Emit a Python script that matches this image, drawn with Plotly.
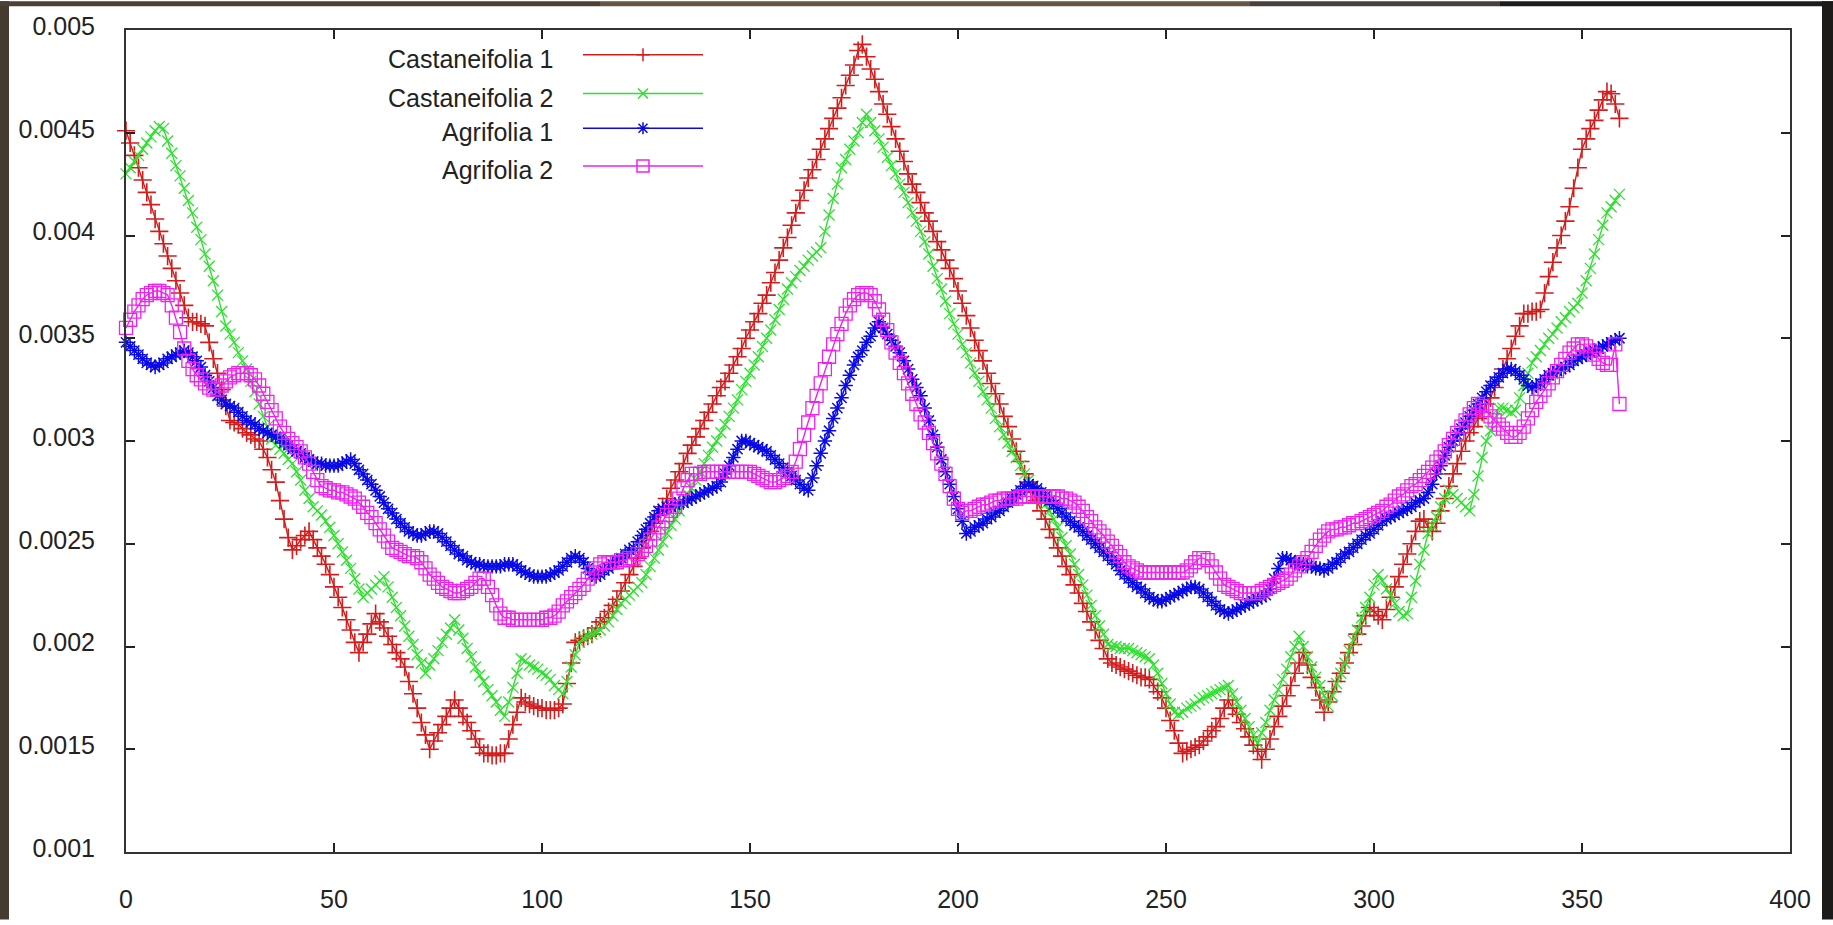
import plotly.graph_objects as go

# ---------------- data ----------------
angle_deg = list(range(0, 360))

castaneifolia_1 = [
    0.00451, 0.00445, 0.00439, 0.00433, 0.00427, 0.00421, 0.00415, 0.00408, 0.00402, 0.00396,
    0.00390, 0.00384, 0.00378, 0.00372, 0.00366, 0.00360, 0.00358, 0.00358, 0.00357, 0.00356,
    0.00348, 0.00340, 0.00333, 0.00325, 0.00317, 0.00310, 0.00309, 0.00308, 0.00306, 0.00304,
    0.00303, 0.00301, 0.00300, 0.00296, 0.00292, 0.00286, 0.00280, 0.00271, 0.00262, 0.00253,
    0.00247, 0.00249, 0.00252, 0.00254, 0.00256, 0.00252, 0.00248, 0.00244, 0.00240, 0.00235,
    0.00229, 0.00224, 0.00219, 0.00213, 0.00208, 0.00202, 0.00197, 0.00202, 0.00206, 0.00211,
    0.00216, 0.00212, 0.00209, 0.00205, 0.00201, 0.00197, 0.00194, 0.00190, 0.00183, 0.00177,
    0.00170, 0.00163, 0.00157, 0.00150, 0.00154, 0.00158, 0.00162, 0.00166, 0.00170, 0.00174,
    0.00170, 0.00166, 0.00163, 0.00159, 0.00155, 0.00151, 0.00148, 0.00148, 0.00147, 0.00147,
    0.00148, 0.00148, 0.00155, 0.00162, 0.00168, 0.00175, 0.00173, 0.00172, 0.00171, 0.00170,
    0.00170, 0.00169, 0.00169, 0.00169, 0.00170, 0.00172, 0.00182, 0.00192, 0.00202, 0.00203,
    0.00204, 0.00205, 0.00206, 0.00209, 0.00212, 0.00214, 0.00217, 0.00220, 0.00223, 0.00227,
    0.00231, 0.00235, 0.00239, 0.00243, 0.00248, 0.00252, 0.00256, 0.00260, 0.00264, 0.00268,
    0.00272, 0.00277, 0.00281, 0.00285, 0.00289, 0.00294, 0.00298, 0.00302, 0.00306, 0.00310,
    0.00314, 0.00318, 0.00322, 0.00326, 0.00329, 0.00333, 0.00337, 0.00341, 0.00345, 0.00350,
    0.00354, 0.00358, 0.00362, 0.00367, 0.00371, 0.00377, 0.00382, 0.00388, 0.00394, 0.00399,
    0.00405, 0.00411, 0.00417, 0.00422, 0.00428, 0.00432, 0.00437, 0.00442, 0.00447, 0.00452,
    0.00457, 0.00462, 0.00467, 0.00473, 0.00478, 0.00483, 0.00490, 0.00493, 0.00487, 0.00481,
    0.00476, 0.00470, 0.00464, 0.00459, 0.00453, 0.00447, 0.00441, 0.00436, 0.00430, 0.00425,
    0.00421, 0.00416, 0.00411, 0.00407, 0.00402, 0.00397, 0.00393, 0.00388, 0.00384, 0.00379,
    0.00373, 0.00367, 0.00361, 0.00355, 0.00349, 0.00344, 0.00339, 0.00333, 0.00328, 0.00323,
    0.00318, 0.00312, 0.00307, 0.00301, 0.00295, 0.00290, 0.00284, 0.00280, 0.00275, 0.00271,
    0.00266, 0.00262, 0.00257, 0.00253, 0.00248, 0.00244, 0.00239, 0.00235, 0.00230, 0.00226,
    0.00221, 0.00217, 0.00212, 0.00208, 0.00203, 0.00199, 0.00194, 0.00192, 0.00191, 0.00190,
    0.00189, 0.00188, 0.00187, 0.00186, 0.00185, 0.00185, 0.00184, 0.00181, 0.00178, 0.00175,
    0.00170, 0.00164, 0.00159, 0.00153, 0.00148, 0.00149, 0.00150, 0.00151, 0.00152, 0.00154,
    0.00156, 0.00159, 0.00161, 0.00165, 0.00170, 0.00174, 0.00170, 0.00167, 0.00163, 0.00160,
    0.00156, 0.00152, 0.00149, 0.00145, 0.00150, 0.00155, 0.00161, 0.00166, 0.00171, 0.00176,
    0.00181, 0.00187, 0.00192, 0.00197, 0.00191, 0.00185, 0.00180, 0.00174, 0.00168, 0.00173,
    0.00178, 0.00183, 0.00187, 0.00192, 0.00197, 0.00201, 0.00206, 0.00210, 0.00215, 0.00219,
    0.00217, 0.00215, 0.00213, 0.00218, 0.00224, 0.00229, 0.00234, 0.00240, 0.00245, 0.00250,
    0.00256, 0.00261, 0.00262, 0.00258, 0.00256, 0.00260, 0.00266, 0.00272, 0.00278, 0.00284,
    0.00289, 0.00295, 0.00300, 0.00304, 0.00307, 0.00311, 0.00314, 0.00318, 0.00321, 0.00326,
    0.00331, 0.00335, 0.00340, 0.00345, 0.00351, 0.00356, 0.00362, 0.00362, 0.00363, 0.00363,
    0.00364, 0.00372, 0.00380, 0.00387, 0.00394, 0.00400, 0.00407, 0.00414, 0.00423, 0.00433,
    0.00442, 0.00447, 0.00452, 0.00456, 0.00461, 0.00466, 0.00470, 0.00469, 0.00464, 0.00457,
]

castaneifolia_2 = [
    0.00430, 0.00433, 0.00436, 0.00439, 0.00442, 0.00445, 0.00448, 0.00451, 0.00453, 0.00452,
    0.00446, 0.00440, 0.00434, 0.00429, 0.00423, 0.00417, 0.00411, 0.00404, 0.00398, 0.00391,
    0.00385, 0.00378, 0.00371, 0.00363, 0.00356, 0.00352, 0.00348, 0.00343, 0.00339, 0.00335,
    0.00329, 0.00324, 0.00318, 0.00312, 0.00307, 0.00301, 0.00298, 0.00296, 0.00294, 0.00291,
    0.00289, 0.00285, 0.00281, 0.00276, 0.00272, 0.00268, 0.00266, 0.00264, 0.00261, 0.00258,
    0.00254, 0.00250, 0.00246, 0.00242, 0.00238, 0.00233, 0.00228, 0.00224, 0.00226, 0.00228,
    0.00230, 0.00232, 0.00234, 0.00229, 0.00224, 0.00219, 0.00215, 0.00210, 0.00205, 0.00201,
    0.00196, 0.00192, 0.00187, 0.00191, 0.00194, 0.00198, 0.00202, 0.00206, 0.00209, 0.00213,
    0.00208, 0.00204, 0.00199, 0.00195, 0.00190, 0.00186, 0.00183, 0.00179, 0.00176, 0.00173,
    0.00169, 0.00166, 0.00173, 0.00180, 0.00187, 0.00194, 0.00193, 0.00191, 0.00190, 0.00189,
    0.00187, 0.00186, 0.00184, 0.00181, 0.00179, 0.00177, 0.00183, 0.00190, 0.00196, 0.00202,
    0.00204, 0.00205, 0.00206, 0.00207, 0.00208, 0.00210, 0.00212, 0.00215, 0.00218, 0.00221,
    0.00223, 0.00225, 0.00227, 0.00229, 0.00231, 0.00235, 0.00239, 0.00243, 0.00247, 0.00251,
    0.00255, 0.00259, 0.00262, 0.00266, 0.00270, 0.00274, 0.00277, 0.00281, 0.00285, 0.00289,
    0.00293, 0.00297, 0.00300, 0.00304, 0.00308, 0.00312, 0.00316, 0.00320, 0.00325, 0.00329,
    0.00333, 0.00337, 0.00341, 0.00346, 0.00350, 0.00354, 0.00359, 0.00364, 0.00369, 0.00374,
    0.00377, 0.00380, 0.00383, 0.00385, 0.00388, 0.00390, 0.00392, 0.00394, 0.00402, 0.00410,
    0.00418, 0.00425, 0.00433, 0.00437, 0.00442, 0.00446, 0.00450, 0.00455, 0.00459, 0.00455,
    0.00451, 0.00447, 0.00443, 0.00438, 0.00434, 0.00430, 0.00425, 0.00421, 0.00416, 0.00411,
    0.00407, 0.00402, 0.00397, 0.00391, 0.00385, 0.00379, 0.00374, 0.00368, 0.00362, 0.00357,
    0.00352, 0.00347, 0.00343, 0.00338, 0.00333, 0.00329, 0.00324, 0.00320, 0.00316, 0.00311,
    0.00307, 0.00303, 0.00299, 0.00295, 0.00292, 0.00288, 0.00284, 0.00281, 0.00278, 0.00275,
    0.00272, 0.00269, 0.00266, 0.00262, 0.00258, 0.00253, 0.00249, 0.00245, 0.00240, 0.00235,
    0.00230, 0.00225, 0.00220, 0.00215, 0.00210, 0.00206, 0.00201, 0.00200, 0.00200, 0.00199,
    0.00199, 0.00199, 0.00198, 0.00197, 0.00196, 0.00195, 0.00194, 0.00191, 0.00187, 0.00182,
    0.00177, 0.00172, 0.00168, 0.00167, 0.00168, 0.00170, 0.00171, 0.00172, 0.00174, 0.00175,
    0.00176, 0.00177, 0.00178, 0.00179, 0.00180, 0.00181, 0.00177, 0.00173, 0.00169, 0.00165,
    0.00161, 0.00157, 0.00153, 0.00158, 0.00163, 0.00169, 0.00174, 0.00179, 0.00184, 0.00189,
    0.00195, 0.00200, 0.00205, 0.00200, 0.00195, 0.00190, 0.00185, 0.00181, 0.00176, 0.00171,
    0.00176, 0.00182, 0.00187, 0.00192, 0.00198, 0.00203, 0.00208, 0.00214, 0.00219, 0.00224,
    0.00230, 0.00235, 0.00232, 0.00228, 0.00225, 0.00221, 0.00217, 0.00215, 0.00216, 0.00224,
    0.00232, 0.00240, 0.00247, 0.00255, 0.00259, 0.00263, 0.00268, 0.00272, 0.00276, 0.00274,
    0.00272, 0.00270, 0.00268, 0.00266, 0.00274, 0.00283, 0.00292, 0.00300, 0.00305, 0.00311,
    0.00316, 0.00316, 0.00315, 0.00314, 0.00315, 0.00321, 0.00327, 0.00333, 0.00338, 0.00341,
    0.00344, 0.00347, 0.00350, 0.00352, 0.00355, 0.00358, 0.00360, 0.00363, 0.00365, 0.00367,
    0.00372, 0.00378, 0.00384, 0.00391, 0.00398, 0.00405, 0.00411, 0.00414, 0.00417, 0.00420,
]

agrifolia_1 = [
    0.00348, 0.00346, 0.00344, 0.00342, 0.00340, 0.00338, 0.00337, 0.00336, 0.00337, 0.00338,
    0.00340, 0.00341, 0.00342, 0.00343, 0.00344, 0.00343, 0.00341, 0.00339, 0.00336, 0.00332,
    0.00329, 0.00326, 0.00322, 0.00320, 0.00318, 0.00317, 0.00316, 0.00314, 0.00312, 0.00310,
    0.00309, 0.00308, 0.00306, 0.00305, 0.00304, 0.00303, 0.00302, 0.00301, 0.00299, 0.00298,
    0.00296, 0.00295, 0.00294, 0.00292, 0.00291, 0.00290, 0.00289, 0.00289, 0.00288, 0.00288,
    0.00288, 0.00288, 0.00289, 0.00290, 0.00291, 0.00289, 0.00286, 0.00284, 0.00281, 0.00279,
    0.00276, 0.00273, 0.00270, 0.00267, 0.00265, 0.00262, 0.00260, 0.00258, 0.00256, 0.00255,
    0.00254, 0.00254, 0.00255, 0.00256, 0.00256, 0.00255, 0.00253, 0.00251, 0.00249, 0.00247,
    0.00245, 0.00244, 0.00242, 0.00241, 0.00240, 0.00240, 0.00239, 0.00239, 0.00239, 0.00239,
    0.00239, 0.00240, 0.00240, 0.00240, 0.00239, 0.00237, 0.00236, 0.00235, 0.00234, 0.00234,
    0.00234, 0.00234, 0.00235, 0.00236, 0.00237, 0.00239, 0.00241, 0.00243, 0.00244, 0.00243,
    0.00241, 0.00238, 0.00235, 0.00234, 0.00235, 0.00237, 0.00238, 0.00240, 0.00242, 0.00243,
    0.00245, 0.00247, 0.00248, 0.00251, 0.00254, 0.00257, 0.00260, 0.00263, 0.00266, 0.00267,
    0.00268, 0.00268, 0.00269, 0.00270, 0.00270, 0.00271, 0.00272, 0.00273, 0.00274, 0.00275,
    0.00276, 0.00277, 0.00278, 0.00280, 0.00284, 0.00288, 0.00292, 0.00296, 0.00300, 0.00300,
    0.00299, 0.00298, 0.00297, 0.00296, 0.00295, 0.00293, 0.00291, 0.00289, 0.00287, 0.00285,
    0.00283, 0.00281, 0.00279, 0.00277, 0.00276, 0.00282, 0.00288, 0.00294, 0.00300, 0.00305,
    0.00311, 0.00316, 0.00321, 0.00327, 0.00332, 0.00337, 0.00341, 0.00344, 0.00348, 0.00351,
    0.00355, 0.00358, 0.00355, 0.00352, 0.00349, 0.00346, 0.00343, 0.00339, 0.00335, 0.00330,
    0.00326, 0.00322, 0.00316, 0.00310, 0.00303, 0.00297, 0.00291, 0.00285, 0.00279, 0.00273,
    0.00267, 0.00261, 0.00255, 0.00256, 0.00258, 0.00259, 0.00260, 0.00262, 0.00263, 0.00265,
    0.00266, 0.00268, 0.00270, 0.00272, 0.00274, 0.00276, 0.00278, 0.00279, 0.00278, 0.00277,
    0.00275, 0.00273, 0.00271, 0.00269, 0.00267, 0.00265, 0.00263, 0.00261, 0.00259, 0.00258,
    0.00256, 0.00254, 0.00252, 0.00250, 0.00248, 0.00246, 0.00244, 0.00242, 0.00240, 0.00237,
    0.00235, 0.00233, 0.00231, 0.00229, 0.00228, 0.00226, 0.00224, 0.00223, 0.00222, 0.00222,
    0.00223, 0.00224, 0.00225, 0.00226, 0.00227, 0.00228, 0.00229, 0.00229, 0.00228, 0.00226,
    0.00224, 0.00222, 0.00220, 0.00218, 0.00217, 0.00216, 0.00217, 0.00218, 0.00219, 0.00220,
    0.00221, 0.00222, 0.00223, 0.00224, 0.00225, 0.00228, 0.00233, 0.00238, 0.00243, 0.00243,
    0.00242, 0.00241, 0.00240, 0.00240, 0.00239, 0.00239, 0.00238, 0.00238, 0.00237, 0.00238,
    0.00240, 0.00241, 0.00243, 0.00245, 0.00246, 0.00248, 0.00250, 0.00252, 0.00254, 0.00255,
    0.00257, 0.00259, 0.00261, 0.00262, 0.00263, 0.00264, 0.00265, 0.00266, 0.00267, 0.00268,
    0.00270, 0.00271, 0.00272, 0.00275, 0.00279, 0.00284, 0.00288, 0.00293, 0.00297, 0.00300,
    0.00303, 0.00306, 0.00309, 0.00312, 0.00315, 0.00318, 0.00321, 0.00324, 0.00327, 0.00329,
    0.00331, 0.00333, 0.00335, 0.00335, 0.00334, 0.00332, 0.00330, 0.00327, 0.00326, 0.00327,
    0.00328, 0.00330, 0.00332, 0.00333, 0.00334, 0.00335, 0.00336, 0.00337, 0.00339, 0.00340,
    0.00341, 0.00342, 0.00343, 0.00344, 0.00345, 0.00346, 0.00347, 0.00348, 0.00349, 0.00350,
]

agrifolia_2 = [
    0.00355, 0.00359, 0.00363, 0.00366, 0.00369, 0.00371, 0.00372, 0.00373, 0.00373, 0.00372,
    0.00371, 0.00366, 0.00360, 0.00353, 0.00345, 0.00339, 0.00335, 0.00332, 0.00330, 0.00328,
    0.00326, 0.00325, 0.00325, 0.00327, 0.00329, 0.00331, 0.00332, 0.00333, 0.00333, 0.00333,
    0.00332, 0.00330, 0.00327, 0.00323, 0.00319, 0.00315, 0.00311, 0.00307, 0.00304, 0.00301,
    0.00299, 0.00297, 0.00295, 0.00292, 0.00289, 0.00285, 0.00281, 0.00278, 0.00277, 0.00276,
    0.00276, 0.00275, 0.00275, 0.00274, 0.00273, 0.00272, 0.00270, 0.00268, 0.00265, 0.00263,
    0.00260, 0.00257, 0.00254, 0.00251, 0.00248, 0.00247, 0.00246, 0.00245, 0.00244, 0.00244,
    0.00243, 0.00241, 0.00238, 0.00235, 0.00233, 0.00231, 0.00229, 0.00228, 0.00227, 0.00226,
    0.00226, 0.00227, 0.00228, 0.00229, 0.00231, 0.00233, 0.00233, 0.00229, 0.00225, 0.00220,
    0.00216, 0.00214, 0.00214, 0.00213, 0.00213, 0.00213, 0.00213, 0.00213, 0.00213, 0.00213,
    0.00213, 0.00214, 0.00214, 0.00215, 0.00217, 0.00220, 0.00222, 0.00224, 0.00226, 0.00228,
    0.00230, 0.00233, 0.00236, 0.00238, 0.00240, 0.00241, 0.00241, 0.00241, 0.00241, 0.00242,
    0.00242, 0.00243, 0.00243, 0.00245, 0.00247, 0.00249, 0.00252, 0.00255, 0.00258, 0.00261,
    0.00264, 0.00266, 0.00268, 0.00272, 0.00277, 0.00281, 0.00284, 0.00284, 0.00284, 0.00285,
    0.00285, 0.00285, 0.00285, 0.00285, 0.00285, 0.00285, 0.00285, 0.00285, 0.00285, 0.00285,
    0.00285, 0.00284, 0.00283, 0.00282, 0.00281, 0.00280, 0.00280, 0.00281, 0.00282, 0.00283,
    0.00285, 0.00290, 0.00296, 0.00303, 0.00309, 0.00316, 0.00322, 0.00328, 0.00335, 0.00341,
    0.00347, 0.00352, 0.00357, 0.00362, 0.00366, 0.00369, 0.00371, 0.00372, 0.00372, 0.00371,
    0.00368, 0.00364, 0.00359, 0.00354, 0.00348, 0.00343, 0.00338, 0.00333, 0.00328, 0.00323,
    0.00318, 0.00313, 0.00309, 0.00304, 0.00299, 0.00294, 0.00289, 0.00284, 0.00278, 0.00272,
    0.00267, 0.00265, 0.00266, 0.00266, 0.00267, 0.00268, 0.00269, 0.00269, 0.00270, 0.00271,
    0.00271, 0.00272, 0.00272, 0.00272, 0.00272, 0.00273, 0.00273, 0.00273, 0.00273, 0.00273,
    0.00273, 0.00273, 0.00273, 0.00273, 0.00273, 0.00272, 0.00272, 0.00271, 0.00270, 0.00268,
    0.00266, 0.00263, 0.00261, 0.00258, 0.00256, 0.00254, 0.00251, 0.00249, 0.00246, 0.00244,
    0.00241, 0.00239, 0.00238, 0.00237, 0.00236, 0.00236, 0.00236, 0.00236, 0.00236, 0.00236,
    0.00236, 0.00236, 0.00236, 0.00236, 0.00236, 0.00237, 0.00239, 0.00241, 0.00243, 0.00243,
    0.00242, 0.00239, 0.00236, 0.00233, 0.00230, 0.00229, 0.00228, 0.00227, 0.00226, 0.00226,
    0.00226, 0.00226, 0.00226, 0.00227, 0.00228, 0.00229, 0.00230, 0.00231, 0.00232, 0.00233,
    0.00235, 0.00237, 0.00239, 0.00241, 0.00243, 0.00246, 0.00249, 0.00252, 0.00254, 0.00256,
    0.00257, 0.00257, 0.00258, 0.00258, 0.00259, 0.00260, 0.00260, 0.00261, 0.00262, 0.00263,
    0.00264, 0.00265, 0.00266, 0.00268, 0.00269, 0.00271, 0.00273, 0.00274, 0.00276, 0.00278,
    0.00279, 0.00281, 0.00283, 0.00285, 0.00287, 0.00290, 0.00292, 0.00295, 0.00298, 0.00301,
    0.00304, 0.00307, 0.00310, 0.00313, 0.00316, 0.00318, 0.00317, 0.00315, 0.00312, 0.00310,
    0.00308, 0.00306, 0.00304, 0.00302, 0.00302, 0.00304, 0.00307, 0.00311, 0.00315, 0.00319,
    0.00322, 0.00325, 0.00328, 0.00331, 0.00334, 0.00337, 0.00340, 0.00343, 0.00345, 0.00347,
    0.00347, 0.00346, 0.00344, 0.00342, 0.00340, 0.00338, 0.00337, 0.00337, 0.00347, 0.00318,
]

series_names = ["Castaneifolia 1", "Castaneifolia 2", "Agrifolia 1", "Agrifolia 2"]
series_values = [castaneifolia_1, castaneifolia_2, agrifolia_1, agrifolia_2]

x_tick_vals = [0, 50, 100, 150, 200, 250, 300, 350, 400]
x_tick_text = ["0", "50", "100", "150", "200", "250", "300", "350", "400"]
y_tick_vals = [0.001, 0.0015, 0.002, 0.0025, 0.003, 0.0035, 0.004, 0.0045, 0.005]
y_tick_text = ["0.001", "0.0015", "0.002", "0.0025", "0.003", "0.0035", "0.004", "0.0045", "0.005"]

# ---------------- styles / layout ----------------
FIG_W, FIG_H = 1833, 925
PLOT_L, PLOT_R, PLOT_T, PLOT_B = 126, 1790, 29, 857

colors = ["#d41c1c", "#2fe02f", "#0a0ae6", "#ee22ee"]
symbols = ["cross-thin", "x-thin", "asterisk", "square-open"]
sizes = [13, 11, 12, 13]
marker_lw = [1.6, 1.3, 1.5, 1.3]

FONT = "Liberation Sans, Arial, Helvetica, sans-serif"
TXT = "#222222"


def px_x(px):
    return (px - PLOT_L) / (PLOT_R - PLOT_L)


def px_y(py):
    return (PLOT_B - py) / (PLOT_B - PLOT_T)


fig = go.Figure()
for name, vals, col, sym, sz, mlw in zip(series_names, series_values, colors, symbols, sizes, marker_lw):
    fig.add_trace(go.Scatter(
        x=angle_deg, y=vals, mode="lines+markers", name=name,
        line=dict(color=col, width=1.4),
        marker=dict(symbol=sym, size=sz, color=col, line=dict(color=col, width=mlw)),
        cliponaxis=False, showlegend=False, hoverinfo="skip",
    ))

axis_common = dict(
    ticks="inside", ticklen=9, tickwidth=1.5, tickcolor=TXT,
    showline=True, linecolor="#333333", linewidth=2, mirror="ticks",
    showgrid=False, zeroline=False,
    tickfont=dict(family=FONT, size=25, color=TXT),
)
fig.update_xaxes(range=[0, 400], tickmode="array", tickvals=x_tick_vals, ticktext=x_tick_text,
                 ticklabelstandoff=24, **axis_common)
fig.update_yaxes(range=[0.001, 0.005], tickmode="array", tickvals=y_tick_vals, ticktext=y_tick_text,
                 ticklabelstandoff=24, ticklabelshift=-4, **axis_common)

shapes = []
# dark photo border around the white chart
border_boxes = [
    (0, 9, 0, FIG_H, "#463b31"),
    (0, 600, 0, 5, "#4d4034"),
    (600, 1250, 0, 5, "#675644"),
    (1250, 1500, 0, 5, "#4a4038"),
    (1500, FIG_W, 0, 5, "#1f1d1b"),
    (1822, FIG_W, 0, FIG_H, "#1c1b1a"),
]
for x0, x1, y0, y1, c in border_boxes:
    shapes.append(dict(type="rect", xref="paper", yref="paper",
                       x0=px_x(x0), x1=px_x(x1), y0=px_y(y1), y1=px_y(y0),
                       line=dict(width=0), fillcolor=c, layer="below"))

# gnuplot-style key: text on the left, sample on the right
key_rows = [54, 93, 128, 166]
key_line_x0, key_line_x1, key_mark_x, key_text_x = 583, 703, 643, 555
key_paths = [
    "M-6.5,0 L6.5,0 M0,-6.5 L0,6.5",
    "M-5,-5 L5,5 M-5,5 L5,-5",
    "M-6,0 L6,0 M0,-6 L0,6 M-4.5,-4.5 L4.5,4.5 M-4.5,4.5 L4.5,-4.5",
    "M-6,-6 L6,-6 L6,6 L-6,6 Z",
]
annotations = []
for row, name, col, pth in zip(key_rows, series_names, colors, key_paths):
    shapes.append(dict(type="line", xref="paper", yref="paper",
                       x0=px_x(key_line_x0), x1=px_x(key_line_x1), y0=px_y(row), y1=px_y(row),
                       line=dict(color=col, width=1.5)))
    shapes.append(dict(type="path", xref="paper", yref="paper",
                       xsizemode="pixel", ysizemode="pixel",
                       xanchor=px_x(key_mark_x), yanchor=px_y(row),
                       path=pth, line=dict(color=col, width=1.5)))
    annotations.append(dict(xref="paper", yref="paper", x=px_x(key_text_x), y=px_y(row + 4),
                            xanchor="right", yanchor="middle", showarrow=False, text=name,
                            font=dict(family=FONT, size=25, color=TXT)))

fig.update_layout(
    width=FIG_W, height=FIG_H, autosize=False,
    margin=dict(l=PLOT_L, r=FIG_W - PLOT_R, t=PLOT_T, b=FIG_H - PLOT_B, pad=0),
    paper_bgcolor="white", plot_bgcolor="white",
    shapes=shapes, annotations=annotations, showlegend=False,
)

fig.write_html(
    "out.html", include_plotlyjs=True, config={"displayModeBar": False},
    post_script="document.body.style.margin='0px';document.body.style.overflow='hidden';",
)
